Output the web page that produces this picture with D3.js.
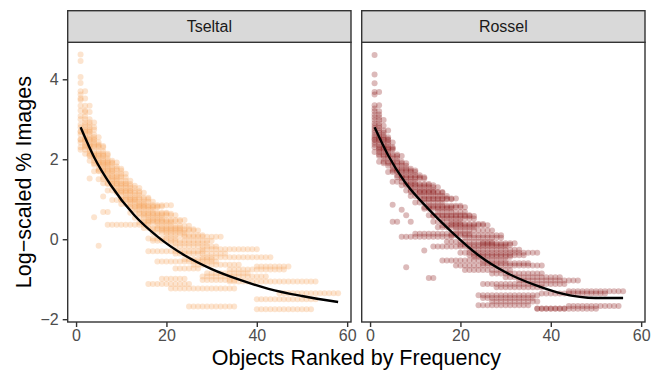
<!DOCTYPE html>
<html>
<head>
<meta charset="utf-8">
<script src="https://cdn.jsdelivr.net/npm/d3@7"></script>
<style>
  body { margin: 0; background: #fff; }
  svg { display: block; font-family: "Liberation Sans", Arial, Helvetica, sans-serif; }
</style>
</head>
<body>
<div id="chart"></div>
<script>
// facets
var panels = ["Tseltal", "Rossel"];

// runs of dots: [log % images, first rank, last rank]
var tseltalRuns = [
  [4.62,1,1],[4.46,1,1],[4.06,1,1],[3.91,1,1],[3.70,1,2],[3.62,1,1],[3.52,1,2],[3.48,1,1],
  [3.34,1,3],[3.22,1,2],[3.18,2,3],[3.08,1,2],[3.00,1,3],[2.92,2,4],[2.86,1,3],[2.80,1,4],
  [2.74,2,4],[2.70,1,3],[2.68,1,3],[2.62,1,4],[2.55,2,5],[2.50,1,4],[2.48,1,4],[2.42,1,5],
  [2.36,2,5],[2.33,2,6],[2.30,1,6],[2.24,1,3],[2.20,3,6],[2.14,2,7],[2.10,3,7],[2.08,3,6],
  [2.02,4,7],[1.96,3,8],[1.92,5,9],[1.90,4,8],[1.86,4,7],[1.82,6,9],[1.76,5,10],[1.72,5,10],
  [1.70,4,8],[1.64,6,11],[1.58,7,10],[1.55,6,11],[1.52,3,3],[1.50,5,9],[1.46,8,12],[1.40,6,11],
  [1.38,7,12],[1.34,8,13],[1.28,9,14],[1.22,7,12],[1.20,9,14],[1.16,9,15],[1.10,10,14],[1.07,6,6],
  [1.04,11,16],[1.00,10,16],[0.98,8,13],[0.94,12,17],[0.88,10,15],[0.85,14,21],[0.82,12,19],[0.80,12,18],
  [0.74,13,17],[0.68,6,7],[0.66,12,20],[0.64,14,21],[0.60,15,22],[0.55,4,4],[0.54,13,19],[0.48,16,24],
  [0.45,15,23],[0.42,14,21],[0.36,7,16],[0.34,18,25],[0.28,15,23],[0.25,17,26],[0.22,19,27],[0.16,17,24],
  [0.10,20,28],[0.06,24,32],[0.02,16,22],[-0.04,17,30],[-0.10,21,29],[-0.16,5,5],
  [-0.18,22,31],[-0.25,28,40],[-0.30,16,28],[-0.36,22,33],[-0.45,28,43],[-0.50,24,30],[-0.56,18,31],
  [-0.64,26,36],[-0.68,40,47],[-0.73,22,27],[-0.76,34,46],[-0.85,29,38],[-0.93,28,42],[-0.99,19,24],
  [-1.02,28,35],[-1.06,34,53],[-1.12,16,25],[-1.23,21,35],[-1.35,45,58],[-1.50,40,53],[-1.68,25,35],
  [-1.75,40,52]
];

var rosselRuns = [
  [4.61,1,1],[4.12,1,1],[3.90,1,1],[3.68,1,2],[3.62,1,1],[3.35,1,2],[3.27,1,1],[3.20,1,2],
  [3.12,1,2],[3.05,1,2],[2.98,1,3],[2.90,1,2],[2.84,1,3],[2.78,1,2],[2.72,1,4],[2.66,1,3],
  [2.60,1,3],[2.55,1,4],[2.50,1,4],[2.48,1,4],[2.42,1,5],[2.36,1,4],[2.30,1,5],[2.27,2,5],
  [2.24,2,5],[2.18,1,4],[2.12,2,6],[2.08,2,7],[2.02,3,6],[1.94,2,7],[1.90,3,8],[1.84,4,8],
  [1.76,5,9],[1.72,5,10],[1.68,4,10],[1.60,6,11],[1.55,6,12],[1.52,7,12],[1.44,5,10],[1.38,8,13],
  [1.35,7,14],[1.30,9,15],[1.22,8,14],[1.18,9,16],[1.16,11,16],[1.08,9,17],[1.02,11,19],[1.00,12,18],
  [0.92,10,16],[0.86,5,5],[0.84,13,20],[0.80,12,21],[0.76,12,18],[0.74,7,7],[0.68,15,21],[0.60,8,8],
  [0.60,13,22],[0.58,14,23],[0.52,16,23],[0.44,5,6],[0.44,9,9],[0.44,14,20],[0.38,18,25],[0.35,16,26],
  [0.30,15,23],[0.22,19,27],[0.14,10,22],[0.10,18,29],[0.06,7,18],[0.04,21,29],[-0.06,17,27],
  [-0.10,25,32],[-0.14,20,31],[-0.18,14,30],[-0.28,12,12],[-0.26,22,33],[-0.34,20,37],[-0.40,22,34],
  [-0.44,23,31],[-0.53,16,30],[-0.60,25,35],[-0.66,19,38],[-0.70,8,8],[-0.77,21,31],[-0.86,27,38],
  [-0.95,30,42],[-0.97,13,14],[-1.03,33,46],[-1.12,25,43],[-1.20,28,38],[-1.30,44,56],[-1.36,38,52],
  [-1.40,24,37],[-1.47,25,36],[-1.56,27,37],[-1.65,24,35],[-1.67,44,55],[-1.73,37,43],[-1.74,37,50]
];

// fitted curves: [rank, log % images]
var tseltalFit = [[1,2.8],[4,2.05],[7.7,1.35],[12.9,0.6],[18.1,0.06],[24,-0.4],[29.9,-0.74],[36.6,-1.03],[42.6,-1.24],[50,-1.42],[58,-1.57]];
var rosselFit = [[1,2.8],[4,2.1],[7.7,1.43],[12.9,0.76],[18.1,0.18],[24,-0.4],[29.9,-0.82],[36.6,-1.15],[42.5,-1.36],[49.9,-1.47],[56,-1.47]];

var xTicks = [0, 20, 40, 60];
var yTicks = [-2, 0, 2, 4];
var pointColors = ["#F4A460", "#8B1A1A"];
var pointAlpha = [0.3, 0.3];

var width = 660, height = 373;
var stripTop = 10.7, panelTop = 42.3, panelBottom = 322;
var panelLefts = [67.7, 361.7], panelW = 283.3;

var svg = d3.select("#chart").append("svg").attr("width", width).attr("height", height);

var y = d3.scaleLinear().domain([-2.07, 4.925]).range([panelBottom, panelTop]);

var facetRuns = [tseltalRuns, rosselRuns];
var facetFits = [tseltalFit, rosselFit];

panels.forEach(function (name, i) {
  var left = panelLefts[i];
  var x = d3.scaleLinear().domain([-1.85, 60.85]).range([left, left + panelW]);

  var pts = [];
  facetRuns[i].forEach(function (r) {
    for (var k = r[1]; k <= r[2]; k++) pts.push({ x: k, y: r[0] });
  });

  var g = svg.append("g");
  g.append("rect").attr("x", left).attr("y", panelTop).attr("width", panelW)
    .attr("height", panelBottom - panelTop).attr("fill", "#fff");

  g.selectAll("circle").data(pts).enter().append("circle")
    .attr("cx", function (d) { return x(d.x); })
    .attr("cy", function (d) { return y(d.y); })
    .attr("r", 3)
    .attr("fill", pointColors[i])
    .attr("fill-opacity", pointAlpha[i]);

  var line = d3.line().x(function (d) { return x(d[0]); }).y(function (d) { return y(d[1]); })
    .curve(d3.curveMonotoneX);
  g.append("path").datum(facetFits[i]).attr("d", line)
    .attr("fill", "none").attr("stroke", "#000").attr("stroke-width", 2.4);

  // panel border
  g.append("rect").attr("x", left).attr("y", panelTop).attr("width", panelW)
    .attr("height", panelBottom - panelTop).attr("fill", "none")
    .attr("stroke", "#333333").attr("stroke-width", 1.4);

  // strip
  g.append("rect").attr("x", left).attr("y", stripTop).attr("width", panelW)
    .attr("height", panelTop - stripTop).attr("fill", "#D9D9D9")
    .attr("stroke", "#333333").attr("stroke-width", 1.4);
  g.append("text").attr("x", left + panelW / 2).attr("y", (stripTop + panelTop) / 2)
    .attr("dy", "0.36em").attr("text-anchor", "middle").attr("fill", "#1A1A1A")
    .attr("font-size", 16).text(name);

  // x axis
  var xa = g.append("g").attr("transform", "translate(0," + panelBottom + ")")
    .call(d3.axisBottom(x).tickValues(xTicks).tickFormat(d3.format("d")).tickSize(5).tickPadding(3));
  xa.select(".domain").remove();
  xa.selectAll("line").attr("stroke", "#333333").attr("stroke-width", 1.4);
  xa.selectAll("text").attr("fill", "#4D4D4D").attr("font-size", 16).attr("font-family", null);

  if (i === 0) {
    var ya = g.append("g").attr("transform", "translate(" + left + ",0)")
      .call(d3.axisLeft(y).tickValues(yTicks).tickFormat(d3.format("d")).tickSize(5).tickPadding(4));
    ya.select(".domain").remove();
    ya.selectAll("line").attr("stroke", "#333333").attr("stroke-width", 1.4);
    ya.selectAll("text").attr("fill", "#4D4D4D").attr("font-size", 16).attr("font-family", null);
  }
});

svg.append("text").attr("x", (panelLefts[0] + panelLefts[1] + panelW) / 2).attr("y", 365)
  .attr("text-anchor", "middle").attr("font-size", 21.5).attr("fill", "#000")
  .text("Objects Ranked by Frequency");

svg.append("text").attr("transform", "translate(31," + (panelTop + panelBottom) / 2 + ") rotate(-90)")
  .attr("text-anchor", "middle").attr("font-size", 21.5).attr("fill", "#000")
  .text("Log\u2212scaled % Images");
</script>
</body>
</html>
